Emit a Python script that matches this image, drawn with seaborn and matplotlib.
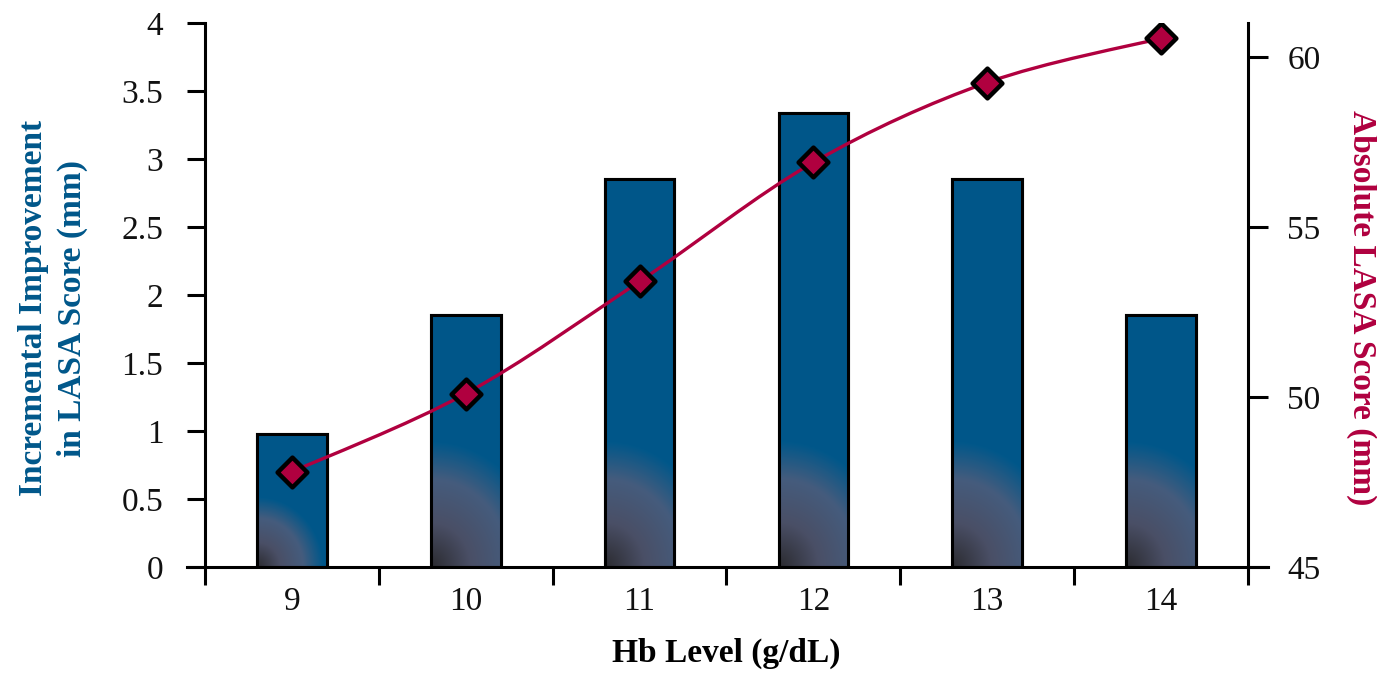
import numpy as np
import pandas as pd
import matplotlib
matplotlib.use("Agg")
import matplotlib.pyplot as plt
import seaborn as sns
from matplotlib.path import Path
from matplotlib.patches import PathPatch, Rectangle
from matplotlib.ticker import FuncFormatter

# Hemoglobin level categories (g/dL)
hb_levels = ["9", "10", "11", "12", "13", "14"]
# Incremental improvement in LASA score per Hb step (mm), left axis
incremental_improvement = [0.98, 1.85, 2.85, 3.34, 2.85, 1.85]
# Absolute LASA score (mm), right axis
absolute_lasa = [47.8, 50.1, 53.4, 56.9, 59.25, 60.55]

left_ticks = [0, 0.5, 1, 1.5, 2, 2.5, 3, 3.5, 4]
right_ticks = [45, 50, 55, 60]

BAR_BLUE = "#00578A"
CRIMSON = "#B0003F"
LABEL_BLUE = "#00578A"
TICK_COLOR = "#111111"
LW = 2.2
TICK_LEN = 13

sns.set_theme(style="ticks")
plt.rcParams["font.family"] = ["Liberation Serif", "DejaVu Serif"]

W, H = 1377, 678
fig = plt.figure(figsize=(W / 100, H / 100), dpi=100)
ax = fig.add_axes([205 / W, 111 / H, 1043 / W, 544 / H])

df = pd.DataFrame({"hb": hb_levels, "improvement": incremental_improvement})
sns.barplot(data=df, x="hb", y="improvement", color=BAR_BLUE, saturation=1,
            width=0.4, edgecolor="black", linewidth=LW, ax=ax)
ax.set_xlim(-0.5, len(hb_levels) - 0.5)
ax.set_ylim(0, 4)

# Shaded lower-left corner on every bar (radial fade from dark grey to blue)
px_x = ax.transData.transform((1, 0))[0] - ax.transData.transform((0, 0))[0]
px_y = ax.transData.transform((0, 1))[1] - ax.transData.transform((0, 0))[1]
stops = np.array([0.0, 0.35, 0.7, 1.0])
cols = np.array([[0.17, 0.17, 0.19],
                 [0.29, 0.31, 0.40],
                 [0.27, 0.36, 0.49],
                 [0.0, 0.341, 0.541]])
bars = [p for p in ax.patches if isinstance(p, Rectangle)]
for p in bars:
    bb = p.get_bbox()
    x0, y0, x1, y1 = bb.x0, bb.y0, bb.x1, bb.y1
    h_px = (y1 - y0) * px_y
    w_px = (x1 - x0) * px_x
    ry = min(0.52 * h_px, 125)
    rx = max(0.9 * ry, 0.95 * w_px)
    ny, nx = 240, 80
    yy, xx = np.meshgrid(np.linspace(0, h_px, ny), np.linspace(0, w_px, nx), indexing="ij")
    d = np.clip(np.sqrt((xx / rx) ** 2 + (yy / ry) ** 2), 0, 1)
    img = np.stack([np.interp(d, stops, cols[:, k]) for k in range(3)], axis=-1)
    im = ax.imshow(img, extent=[x0, x1, y0, y1], origin="lower", aspect="auto",
                   interpolation="bilinear", zorder=p.get_zorder() + 0.1)
    im.set_clip_path(p)
    ax.add_patch(Rectangle((x0, y0), x1 - x0, y1 - y0, fill=False, ec="black",
                           lw=LW, zorder=p.get_zorder() + 0.2))
ax.set_xlim(-0.5, len(hb_levels) - 0.5)
ax.set_ylim(0, 4)

# Left axis styling
ax.set_yticks(left_ticks)
ax.yaxis.set_major_formatter(FuncFormatter(lambda v, _: f"{v:g}"))
ax.tick_params(axis="y", which="major", direction="out", length=TICK_LEN, width=LW,
               pad=17, labelsize=24, labelcolor=TICK_COLOR, color="black")
ax.set_xticks(range(len(hb_levels)))
ax.set_xticklabels(hb_levels)
ax.set_xticks(np.arange(-0.5, len(hb_levels), 1.0), minor=True)
ax.tick_params(axis="x", which="major", length=0, pad=14, labelsize=24, labelcolor=TICK_COLOR)
ax.tick_params(axis="x", which="minor", direction="out", length=TICK_LEN, width=LW, color="black")
for s in ["top", "right"]:
    ax.spines[s].set_visible(False)
for s in ["left", "bottom"]:
    ax.spines[s].set_linewidth(LW)
    ax.spines[s].set_color("black")
ext = (TICK_LEN * 100 / 72) / px_x
ax.spines["bottom"].set_bounds(-0.5 - ext, len(hb_levels) - 0.5 + ext * 1.1)

ax.set_xlabel("Hb Level (g/dL)", fontsize=24, fontweight="bold", color="black", labelpad=15)
ax.set_ylabel("Incremental Improvement\nin LASA Score (mm)", fontsize=24, fontweight="bold",
              color=LABEL_BLUE, ha="center", va="center", rotation_mode="default",
              linespacing=1.35)
ax.yaxis.set_label_coords(-0.1457, 0.476)

# Right axis: absolute LASA score as a smoothed line with diamond markers
ax2 = ax.twinx()
ax2.set_ylim(45, 61)
xs = np.arange(len(absolute_lasa), dtype=float)
pts = np.column_stack([xs, absolute_lasa])
ext_pts = np.vstack([pts[0], pts, pts[-1]])
verts = [tuple(pts[0])]
codes = [Path.MOVETO]
for i in range(len(pts) - 1):
    p0, p1, p2, p3 = ext_pts[i], ext_pts[i + 1], ext_pts[i + 2], ext_pts[i + 3]
    c1 = p1 + (p2 - p0) / 6
    c2 = p2 - (p3 - p1) / 6
    verts += [tuple(c1), tuple(c2), tuple(p2)]
    codes += [Path.CURVE4] * 3
ax2.add_patch(PathPatch(Path(verts, codes), fill=False, ec=CRIMSON, lw=2.4, zorder=2))
sns.scatterplot(x=xs, y=absolute_lasa, marker="D", s=230, color=CRIMSON,
                edgecolor="black", linewidth=3.2, ax=ax2, zorder=3)
ax2.set_xlim(-0.5, len(hb_levels) - 0.5)
ax2.set_ylim(45, 61)
ax2.set_yticks(right_ticks)
ax2.tick_params(axis="y", direction="out", length=TICK_LEN * 1.1, width=LW, pad=14,
                labelsize=24, labelcolor=TICK_COLOR, color="black")
for s in ["top", "left", "bottom"]:
    ax2.spines[s].set_visible(False)
ax2.spines["right"].set_linewidth(LW)
ax2.spines["right"].set_color("black")
ax2.set_ylabel("Absolute LASA Score (mm)", fontsize=24, fontweight="bold", color=CRIMSON,
               rotation=270, ha="center", va="center", rotation_mode="default")
ax2.yaxis.set_label_coords(1.1093, 0.476)

fig.savefig("out.png", dpi=100, facecolor="white")
